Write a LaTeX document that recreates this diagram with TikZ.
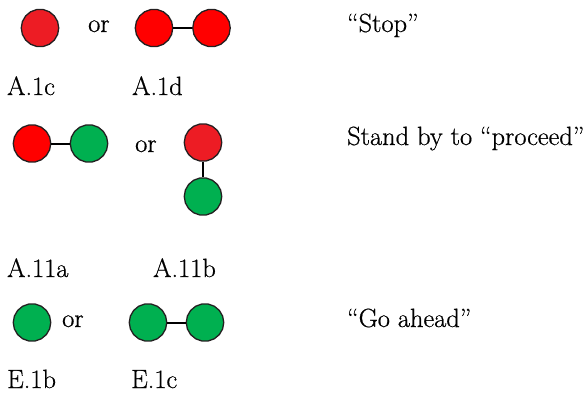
\documentclass[tikz,border=0pt]{standalone}
\usepackage{fontspec}
\setmainfont{Latin Modern Roman}[FakeBold=0.6]
\usetikzlibrary{shapes.geometric}
\definecolor{dred}{RGB}{237,28,36}
\definecolor{pred}{RGB}{255,0,0}
\definecolor{sgreen}{RGB}{0,176,80}
\definecolor{edge}{RGB}{35,31,32}
\tikzset{
  lamp/.style={regular polygon, regular polygon sides=18, minimum size=37.5pt, inner sep=0pt, draw=edge, line width=1.3pt},
  redlamp/.style={lamp, fill=dred},
  purelamp/.style={lamp, fill=pred},
  greenlamp/.style={lamp, fill=sgreen},
  link/.style={draw=black, line width=2pt},
  lbl/.style={anchor=base west, inner sep=0pt, font=\rmfamily\fontsize{26.4}{30}\selectfont}
}
\begin{document}
\begin{tikzpicture}[x=1pt,y=-1pt]
\useasboundingbox (0,0) rectangle (585,394);
% row 1
\node[redlamp] (s1) at (40,28) {};
\node[lbl] (or1) at (88,32) {or};
\node[purelamp] (p1a) at (154,28) {};
\node[purelamp] (p1b) at (211.5,28) {};
\draw[link] (p1a) -- (p1b);
\node[lbl] (t1) at (347,32) {“Stop”};
\node[lbl] (a1c) at (7,95) {A.1c};
\node[lbl] (a1d) at (132,95) {A.1d};
% row 2
\node[purelamp] (p2a) at (32,143.5) {};
\node[greenlamp] (p2b) at (89,143.5) {};
\draw[link] (p2a) -- (p2b);
\node[lbl] (or2) at (135,152) {or};
\node[redlamp] (v2a) at (203,142.5) {};
\node[greenlamp] (v2b) at (203,196.5) {};
\draw[link] (v2a) -- (v2b);
\node[lbl] (t2) at (347,145) {Stand by to “proceed”};
\node[lbl] (a11a) at (7,277) {A.11a};
\node[lbl] (a11b) at (153,277) {A.11b};
% row 3
\node[greenlamp] (g3) at (32,322.5) {};
\node[lbl] (or3) at (62,327) {or};
\node[greenlamp] (g3a) at (148,322.5) {};
\node[greenlamp] (g3b) at (205,322.5) {};
\draw[link] (g3a) -- (g3b);
\node[lbl] (t3) at (347,327) {“Go ahead”};
\node[lbl] (e1b) at (7,388) {E.1b};
\node[lbl] (e1c) at (131,388) {E.1c};
\end{tikzpicture}
\end{document}
